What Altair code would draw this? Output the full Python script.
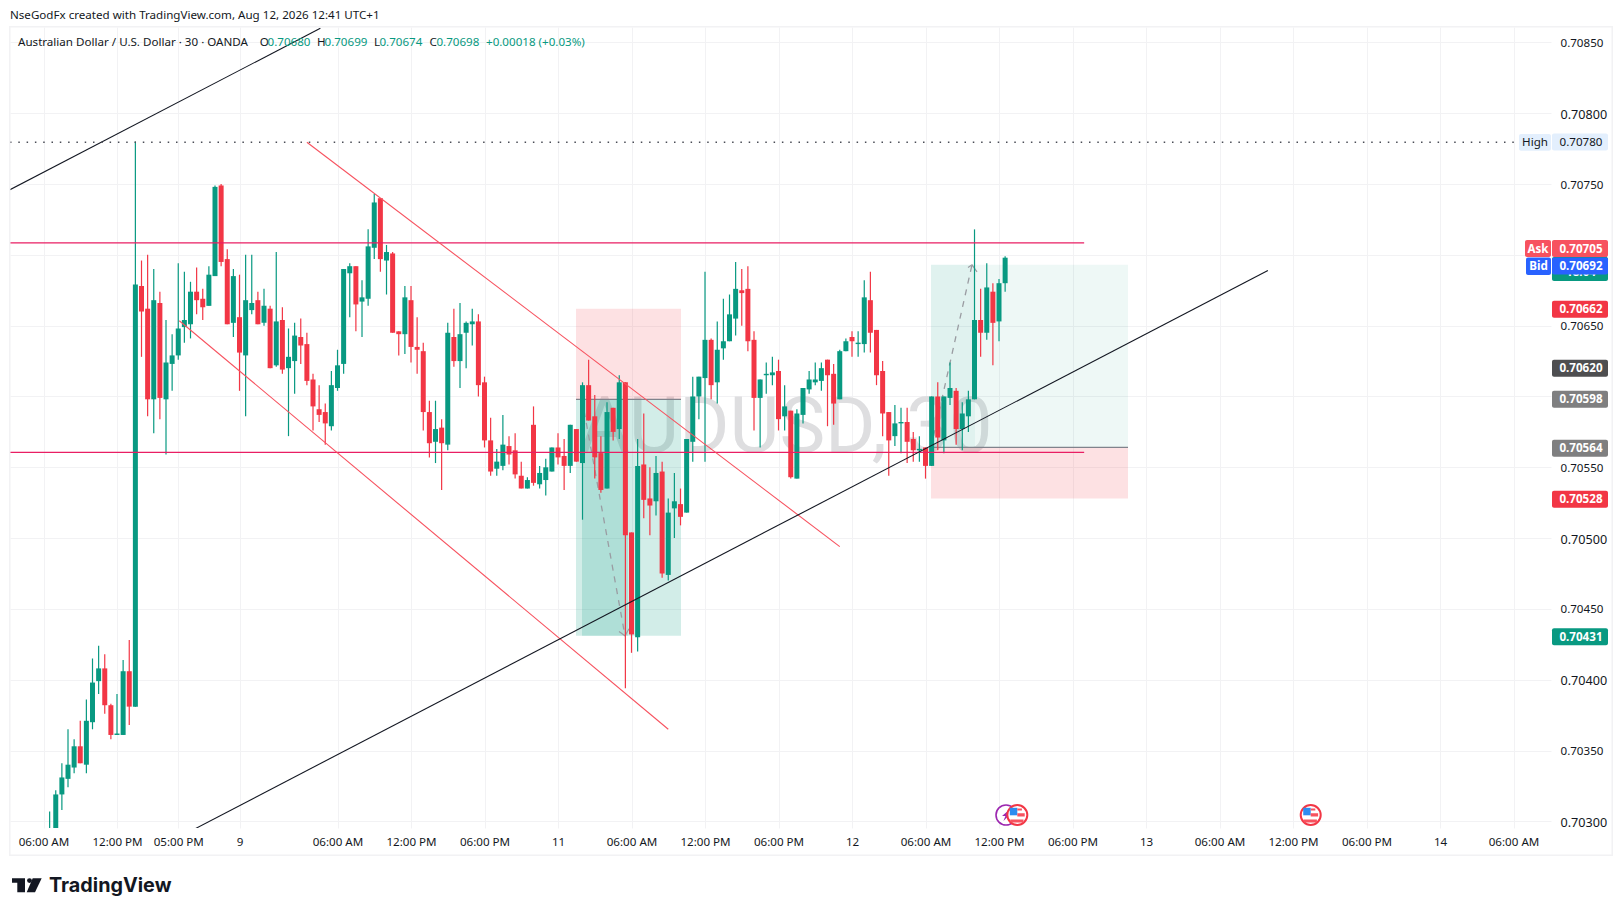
import json
import altair as alt
import pandas as pd

# ---- candle data (price in 1e-5 units), one row per 30-minute bar starting at index 1
opens = [70285,70290,70319,70330,70338,70353,70340,70370,70399,70408,70382,70361,70361,70406,70381,70678,70662,70598,70666,70598,
70623,70629,70649,70651,70674,70669,70664,70685,70749,70697,70652,70656,70629,70661,70668,70652,70662,70622,70654,70620,
70625,70642,70637,70612,70591,70589,70579,70606,70623,70687,70692,70667,70669,70705,70740,70696,70701,70646,70644,70668,
70635,70632,70589,70568,70578,70566,70642,70625,70645,70651,70653,70610,70569,70549,70551,70565,70562,70544,70535,70580,
70538,70541,70547,70564,70558,70551,70577,70553,70608,70586,70560,70535,70592,70577,70610,70504,70430,70552,70528,70526,
70547,70474,70521,70524,70518,70568,70600,70613,70640,70610,70634,70639,70655,70675,70676,70640,70599,70615,70615,70618,
70586,70590,70542,70587,70605,70610,70611,70626,70616,70598,70632,70642,70637,70637,70668,70647,70618,70589,70572,70581,
70582,70570,70562,70564,70551,70600,70569,70599,70604,70577,70586,70598,70654,70645,70674,70653,70680]
highs = [70307,70322,70341,70365,70358,70371,70386,70415,70424,70418,70383,70390,70414,70428,70780,70696,70700,70690,70674,70654,
70644,70694,70688,70681,70691,70676,70692,70749,70750,70704,70690,70686,70700,70700,70674,70676,70664,70702,70663,70648,
70652,70655,70645,70616,70608,70595,70618,70633,70690,70694,70692,70682,70718,70743,70740,70707,70702,70646,70678,70678,
70656,70638,70597,70597,70584,70652,70662,70666,70653,70662,70658,70614,70585,70563,70587,70572,70574,70554,70543,70593,
70551,70556,70564,70574,70570,70580,70577,70610,70626,70601,70572,70596,70592,70615,70610,70504,70570,70588,70550,70558,
70554,70528,70546,70535,70570,70614,70614,70688,70641,70653,70669,70672,70695,70690,70692,70646,70612,70624,70628,70626,
70608,70590,70591,70606,70618,70624,70624,70626,70623,70633,70641,70646,70646,70682,70688,70647,70625,70589,70594,70592,
70592,70575,70572,70564,70600,70610,70600,70624,70606,70596,70604,70718,70676,70694,70680,70683,70699]
lows = [70280,70285,70308,70324,70334,70341,70334,70365,70390,70376,70358,70361,70361,70368,70381,70628,70586,70574,70584,70559,
70604,70626,70638,70641,70658,70654,70664,70685,70692,70651,70642,70604,70586,70658,70651,70650,70620,70621,70616,70572,
70602,70623,70608,70576,70582,70566,70576,70604,70616,70656,70646,70642,70664,70697,70688,70672,70645,70629,70630,70624,
70616,70576,70557,70553,70534,70562,70621,70606,70620,70636,70600,70564,70544,70544,70548,70552,70542,70535,70535,70537,
70535,70530,70547,70552,70534,70546,70554,70513,70583,70542,70532,70535,70569,70570,70394,70419,70420,70514,70502,70516,
70472,70470,70500,70509,70518,70554,70584,70554,70598,70595,70626,70639,70643,70650,70632,70576,70564,70602,70608,70576,
70576,70542,70542,70581,70602,70608,70604,70579,70580,70598,70632,70628,70628,70631,70631,70608,70572,70544,70565,70560,
70553,70554,70554,70542,70551,70562,70560,70594,70566,70562,70575,70598,70628,70640,70622,70639,70674]
closes = [70294,70319,70331,70340,70353,70341,70371,70398,70408,70382,70361,70362,70406,70381,70679,70660,70598,70668,70599,70624,
70629,70648,70654,70674,70668,70663,70686,70748,70695,70651,70685,70631,70668,70666,70651,70664,70620,70653,70619,70628,
70643,70636,70611,70593,70587,70581,70608,70622,70690,70692,70665,70670,70706,70737,70697,70702,70645,70644,70670,70635,
70633,70589,70567,70577,70567,70645,70625,70644,70652,70653,70608,70569,70547,70554,70566,70559,70545,70535,70541,70539,
70546,70550,70564,70557,70551,70580,70554,70608,70583,70557,70534,70589,70575,70610,70502,70432,70551,70527,70523,70546,
70475,70518,70526,70515,70570,70600,70614,70640,70608,70633,70639,70658,70676,70673,70639,70599,70612,70616,70617,70584,
70593,70543,70588,70606,70612,70612,70620,70615,70595,70632,70639,70639,70638,70670,70645,70615,70588,70569,70581,70582,
70568,70562,70563,70551,70600,70571,70600,70606,70577,70588,70598,70654,70645,70677,70652,70680,70698]

# ---- axis content
time_labels = {0:"06:00 AM",12:"12:00 PM",22:"05:00 PM",32:"9",48:"06:00 AM",60:"12:00 PM",72:"06:00 PM",84:"11",
               96:"06:00 AM",108:"12:00 PM",120:"06:00 PM",132:"12",144:"06:00 AM",156:"12:00 PM",168:"06:00 PM",
               180:"13",192:"06:00 AM",204:"12:00 PM",216:"06:00 PM",228:"14",240:"06:00 AM"}
price_ticks = [70300,70350,70400,70450,70500,70550,70600,70650,70700,70750,70800,70850]

# ---- drawings, as (bar index, price)
black_top = [(-5.47,70746),(45.2,70860)]
black_up = [(24.85,70295),(199.9,70689)]
red_upper = [(43.0,70779.5),(130.0,70494)]
red_lower = [(22.17,70653.5),(102.0,70365)]
res_level = 70708.5
sup_level = 70560.6
level_end = 169.9
high_level = 70779.5

GREEN, RED = "#089981", "#F23645"
FONT = "Noto Sans"
W, H = 1541, 801
xs = alt.Scale(domain=[-5.47, 246.12], nice=False, zero=False, padding=0)
ys = alt.Scale(domain=[0.702953, 0.708609], nice=False, zero=False, padding=0)
GRID = "#F2F2F4"

def p(v): return v / 100000

df = pd.DataFrame({"i": range(1, len(opens)+1), "o": [p(v) for v in opens], "h": [p(v) for v in highs],
                   "l": [p(v) for v in lows], "c": [p(v) for v in closes]})
df["col"] = [GREEN if c >= o else RED for o, c in zip(opens, closes)]

size_cond = {"condition": {"test": "round(datum.value*100000)%100==0", "value": 12.6}, "value": 11.6}
x_axis = alt.Axis(values=list(time_labels), grid=True, gridColor=GRID, gridWidth=1,
          domain=False, ticks=False, labelPadding=8, labelFont=FONT, labelFontSize=11.6, labelColor="#131722",
          labelOverlap=False, labelFlush=False, labelExpr=json.dumps({str(k): v for k, v in time_labels.items()}) + "[datum.value]")
y_axis = alt.Axis(orient="right", values=[p(v) for v in price_ticks], format=".5f", grid=True,
          gridColor=GRID, gridWidth=1, domain=False, ticks=False, labelPadding=9, labelOffset=1, labelFont=FONT, labelFontSize=size_cond,
          labelColor="#131722", labelOverlap=False, labelFlush=False)
XN = alt.X("i:Q", scale=xs, title=None, axis=x_axis)
YN = alt.Y("h:Q", scale=ys, title=None, axis=y_axis)
one = alt.Data(values=[{"k": 1}])
DY = 1

def txt(s, x, y, color="#131722", size=11.6, weight="normal", align="left", opacity=1, font=FONT):
    return alt.Chart(alt.Data(values=[{"t": s}])).mark_text(align=align, baseline="middle", font=font, fontSize=size,
            fontWeight=weight, color=color, opacity=opacity, clip=False).encode(x=alt.value(x-10), y=alt.value(y-27+DY), text="t:N")

def pbox(x0, x1, y0, y1, color, radius=2):
    return alt.Chart(one).mark_rect(fill=color, cornerRadius=radius, clip=False).encode(
        x=alt.value(x0-10), x2=alt.value(x1-10), y=alt.value(y0-27), y2=alt.value(y1-27))

def zone(i0, i1, a, b, color, opacity):
    d = pd.DataFrame({"i": [i0], "i2": [i1], "h": [p(a)], "b": [p(b)]})
    return alt.Chart(d).mark_rect(color=color, opacity=opacity, clip=True).encode(x=XN, x2="i2:Q", y=YN, y2="b:Q")

def seg(pts, color, width=1.0, dash=None):
    d = pd.DataFrame({"i": [a for a, _ in pts], "h": [p(b) for _, b in pts], "n": range(len(pts))})
    kw = {}
    if dash: kw["strokeDash"] = dash
    return alt.Chart(d).mark_line(color=color, strokeWidth=width, clip=True, **kw).encode(x=XN, y=YN, order="n:Q")

def icon(i, path, fill):
    return alt.Chart(pd.DataFrame({"i": [i]})).mark_point(shape=path, size=4, filled=True, fill=fill, strokeWidth=0, opacity=1, clip=False).encode(
        x=XN, y=alt.value(788))

def circ(i, fill, stroke, sw, d=20):
    return alt.Chart(pd.DataFrame({"i": [i]})).mark_point(shape="circle", size=d*d, filled=True, fill=fill, stroke=stroke, strokeWidth=sw, opacity=1, clip=False).encode(
        x=XN, y=alt.value(788))

def flag(i):
    return [circ(i, "#FFFFFF", RED, 2),
            icon(i, "M-7.5,-7.2H0V0.3H-7.5Z", "#2D8CF0"),
            icon(i, "M0,-6.4H4.6V-4.4H0ZM0,-1.8H7.4V1.6H0ZM-7,4.4H6.2V7.4H-7Z", "#F7525F")]

# -------- layers
layers = []
# grid + axes
layers.append(alt.Chart(df).mark_rule(opacity=0).encode(x=XN, y=YN))
# watermark
layers.append(txt("AUDUSD, 30", 786, 428, color="#DEDEE0", size=77, font="Roboto", align="center"))
# position tools
i_of = lambda px: (px-43.5)/6.125
layers += [
    zone(i_of(576), i_of(681), 70662, 70598, RED, 0.15),
    zone(i_of(576), i_of(681), 70598, 70431, GREEN, 0.18),
    zone(i_of(582), i_of(628), 70598, 70431, GREEN, 0.17),
    zone(i_of(931), i_of(1128), 70693, 70564, GREEN, 0.07),
    zone(i_of(931), i_of(975), 70693, 70564, GREEN, 0.06),
    zone(i_of(931), i_of(1128), 70564, 70528, RED, 0.15),
    seg([(i_of(576), 70598), (i_of(681), 70598)], "#80838C", 1.2),
    seg([(i_of(931), 70564), (i_of(1128), 70564)], "#80838C", 1.2),
]
# dashed path arrows
layers += [
    seg([(i_of(582), 70598), (i_of(625), 70431)], "#9A9CA2", 1.3, [6, 6]),
    seg([(i_of(619), 70434), (i_of(625), 70431), (i_of(629), 70436)], "#9A9CA2", 1.2),
    seg([(i_of(931), 70564), (i_of(972), 70693)], "#9A9CA2", 1.3, [6, 6]),
    seg([(i_of(968), 70691), (i_of(972), 70693), (i_of(977), 70688)], "#9A9CA2", 1.2),
]
# candles
layers.append(alt.Chart(df).mark_rule(strokeWidth=1.2, clip=True).encode(x=XN, y=YN, y2="l:Q", color=alt.Color("col:N", scale=None)))
layers.append(alt.Chart(df).mark_bar(size=5, clip=True).encode(x=XN, y=alt.Y("o:Q", scale=ys, title=None, axis=y_axis), y2="c:Q", color=alt.Color("col:N", scale=None)))
# user drawings
layers += [
    seg([(-5.47, res_level), (level_end, res_level)], "#E91E63", 1.3),
    seg([(-5.47, sup_level), (level_end, sup_level)], "#E91E63", 1.3),
    seg(red_upper, "#F7525F", 1.1),
    seg(red_lower, "#F7525F", 1.1),
    seg(black_top, "#131722", 1.1),
    seg(black_up, "#131722", 1.1),
    seg([(-5.47, high_level), (240.4, high_level)], "#4A4D56", 1.5, [1.5, 6.8]),
]
# events
layers.append(circ(i_of(1006), "#FFFFFF", "#9C27B0", 1.6))
layers.append(icon(i_of(1006), "M3,-5L-4,1H-0.6L-2.6,6L4,-0.6H0.6Z", "#9C27B0"))
layers += flag(i_of(1017.3))
layers += flag(i_of(1310.7))

# frame
layers += [
    pbox(9, 1613, 26, 27.5, "#F2F2F4", 0), pbox(9, 1613, 854.5, 856, "#F2F2F4", 0),
    pbox(9, 10.5, 26, 856, "#F2F2F4", 0), pbox(1611.5, 1613, 26, 856, "#F2F2F4", 0),
]
# price pills
LX0, LX1, LC = 1552, 1608, 1581
def pill(label, yc, color, tc="#FFFFFF", weight="bold"):
    return [pbox(LX0, LX1, yc-8.5, yc+8.5, color), txt(label, LC, yc, color=tc, weight=weight, align="center")]
layers += [pbox(1552, 1608, 257, 281, GREEN), txt("18:04", LC, 271.5, color="#FFFFFF", align="center", weight="bold")]
layers += pill("0.70780", 142, "#E3EFFD", tc="#131722", weight="normal")
layers += [pbox(1519, 1551, 134, 150.7, "#E3EFFD"), txt("High", 1535, 142, align="center")]
layers += pill("0.70705", 248.5, "#F7525F")
layers += [pbox(1525, 1551, 240, 257, "#F7525F"), txt("Ask", 1538, 248.5, color="#FFFFFF", weight="bold", align="center")]
layers += pill("0.70692", 266, "#2962FF")
layers += [pbox(1526, 1551, 257.5, 275, "#2962FF"), txt("Bid", 1538.5, 266, color="#FFFFFF", weight="bold", align="center")]
layers += pill("0.70662", 309.3, RED)
layers += pill("0.70620", 368.3, "#4E4E50")
layers += pill("0.70598", 399.3, "#7F7F80")
layers += pill("0.70564", 448.3, "#7F7F80")
layers += pill("0.70528", 499.3, RED)
layers += pill("0.70431", 636.7, GREEN)

# header
layers.append(txt("NseGodFx created with TradingView.com, Aug 12, 2026 12:41 UTC+1", 10, 15))
layers.append(txt("Australian Dollar / U.S. Dollar · 30 · OANDA", 18, 41.5))
for s, x, c in [("O", 259.7, "#131722"), ("0.70680", 267.6, GREEN), ("H", 317, "#131722"), ("0.70699", 324.5, GREEN),
                ("L", 374, "#131722"), ("0.70674", 379.4, GREEN), ("C", 429.6, "#131722"), ("0.70698", 436.4, GREEN),
                ("+0.00018 (+0.03%)", 486, GREEN)]:
    layers.append(txt(s, x, 41.5, color=c))
# logo
layers.append(alt.Chart(one).mark_point(shape="M0,0H13V14H5.3V4.4H0Z", size=4, filled=True, fill="#131722", strokeWidth=0, opacity=1, clip=False).encode(x=alt.value(2), y=alt.value(851.3)))
layers.append(alt.Chart(one).mark_point(shape="circle", size=24, filled=True, fill="#131722", strokeWidth=0, opacity=1, clip=False).encode(x=alt.value(19.5), y=alt.value(853.6)))
layers.append(alt.Chart(one).mark_point(shape="M20.7,0H29.7L23,14H14.7Z", size=4, filled=True, fill="#131722", strokeWidth=0, opacity=1, clip=False).encode(x=alt.value(2), y=alt.value(851.3)))
layers.append(txt("TradingView", 49, 885, size=19.8, weight="bold", font="Inter"))

chart = alt.layer(*layers).properties(
    width=W, height=H, padding={"left": 2, "top": 19, "right": 64, "bottom": 80}, autosize=alt.AutoSizeParams(type="none")
).configure_view(stroke=None).configure_axis(labelFont=FONT)
chart.save("out.html", embed_options={"renderer": "svg", "actions": False})
